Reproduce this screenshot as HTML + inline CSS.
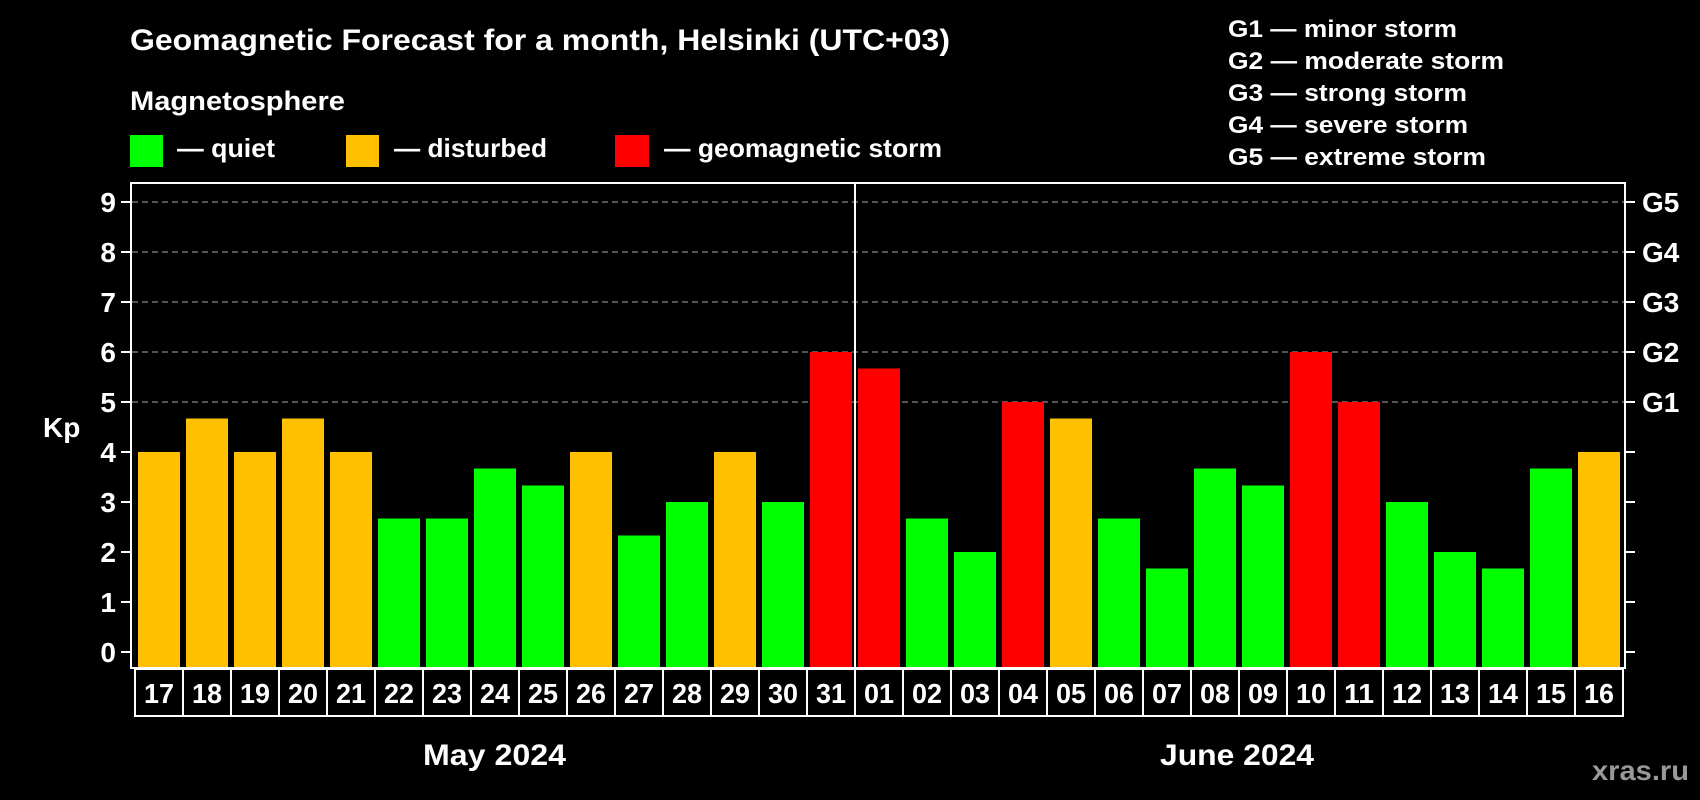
<!DOCTYPE html>
<html><head><meta charset="utf-8"><style>
html,body{margin:0;padding:0;background:#000;}
svg{display:block;font-family:"Liberation Sans",Arial,sans-serif;font-weight:bold;}
</style></head><body>
<svg width="1700" height="800" viewBox="0 0 1700 800" xmlns="http://www.w3.org/2000/svg">
<rect width="1700" height="800" fill="#000"/>
<text x="130" y="50" fill="#fff" font-size="30" textLength="820" lengthAdjust="spacingAndGlyphs">Geomagnetic Forecast for a month, Helsinki (UTC+03)</text>
<text x="130" y="110" fill="#fff" font-size="27" textLength="215" lengthAdjust="spacingAndGlyphs">Magnetosphere</text>
<rect x="130" y="135" width="33" height="32" fill="#00ff00"/>
<rect x="346" y="135" width="33" height="32" fill="#ffc000"/>
<rect x="615" y="135" width="34" height="32" fill="#ff0000"/>
<text x="177" y="157" fill="#fff" font-size="26" textLength="98" lengthAdjust="spacingAndGlyphs">— quiet</text>
<text x="394" y="157" fill="#fff" font-size="26" textLength="153" lengthAdjust="spacingAndGlyphs">— disturbed</text>
<text x="664" y="157" fill="#fff" font-size="26" textLength="278" lengthAdjust="spacingAndGlyphs">— geomagnetic storm</text>
<g fill="#fff" font-size="24">
<text x="1228" y="37" textLength="229" lengthAdjust="spacingAndGlyphs">G1 — minor storm</text>
<text x="1228" y="69" textLength="276" lengthAdjust="spacingAndGlyphs">G2 — moderate storm</text>
<text x="1228" y="101" textLength="239" lengthAdjust="spacingAndGlyphs">G3 — strong storm</text>
<text x="1228" y="133" textLength="240" lengthAdjust="spacingAndGlyphs">G4 — severe storm</text>
<text x="1228" y="165" textLength="258" lengthAdjust="spacingAndGlyphs">G5 — extreme storm</text>
</g>
<g id="grid" stroke="#888" stroke-width="1.2" stroke-dasharray="6,4">
<line x1="132" x2="1624" y1="202" y2="202"/>
<line x1="132" x2="1624" y1="252" y2="252"/>
<line x1="132" x2="1624" y1="302" y2="302"/>
<line x1="132" x2="1624" y1="352" y2="352"/>
<line x1="132" x2="1624" y1="402" y2="402"/>
</g>
<g id="bars"></g>
<line x1="855" x2="855" y1="183" y2="668" stroke="#fff" stroke-width="2"/>
<rect x="131" y="183" width="1494" height="485" fill="none" stroke="#fff" stroke-width="2"/>
<g id="ticks" stroke="#fff" stroke-width="2"></g>
<g id="ylab" fill="#fff" font-size="28" text-anchor="end"></g>
<text x="43" y="437" fill="#fff" font-size="28">Kp</text>
<g fill="#fff" font-size="28">
<text x="1642" y="212">G5</text><text x="1642" y="262">G4</text><text x="1642" y="312">G3</text><text x="1642" y="362">G2</text><text x="1642" y="412">G1</text>
</g>
<g id="dates" fill="#fff" font-size="28" text-anchor="middle"></g>
<g id="boxes" stroke="#fff" stroke-width="2" fill="none"></g>
<text x="423" y="765" fill="#fff" font-size="30" textLength="143" lengthAdjust="spacingAndGlyphs">May 2024</text>
<text x="1160" y="765" fill="#fff" font-size="30" textLength="154" lengthAdjust="spacingAndGlyphs">June 2024</text>
<text x="1592" y="780" fill="#999" font-size="28" textLength="97" lengthAdjust="spacingAndGlyphs">xras.ru</text>
<script>
(function(){
var ns="http://www.w3.org/2000/svg";
var d=["17","18","19","20","21","22","23","24","25","26","27","28","29","30","31","01","02","03","04","05","06","07","08","09","10","11","12","13","14","15","16"];
var v=[4,4.67,4,4.67,4,2.67,2.67,3.67,3.33,4,2.33,3,4,3,6,5.67,2.67,2,5,4.67,2.67,1.67,3.67,3.33,6,5,3,2,1.67,3.67,4];
var G="#00ff00",O="#ffc000",R="#ff0000";
var c=[O,O,O,O,O,G,G,G,G,O,G,G,O,G,R,R,G,G,R,O,G,G,G,G,R,R,G,G,G,G,O];
function el(t,a,p,txt){var e=document.createElementNS(ns,t);for(var k in a)e.setAttribute(k,a[k]);if(txt)e.textContent=txt;document.getElementById(p).appendChild(e);}
for(var i=0;i<31;i++){
 var x=138+48*i,top=652-v[i]*50;
 el("rect",{x:x,y:top,width:42,height:668-top,fill:c[i]},"bars");
 el("text",{x:159+48*i,y:703,textLength:30,lengthAdjust:"spacingAndGlyphs"},"dates",d[i]);
 el("rect",{x:135+48*i,y:669,width:48,height:47},"boxes");
}
for(var k=0;k<=9;k++){
 var y=652-k*50;
 el("line",{x1:121,x2:131,y1:y,y2:y},"ticks");
 el("line",{x1:1625,x2:1635,y1:y,y2:y},"ticks");
 el("text",{x:116,y:y+10},"ylab",String(k));
}
})();
</script>
</svg>
</body></html>
